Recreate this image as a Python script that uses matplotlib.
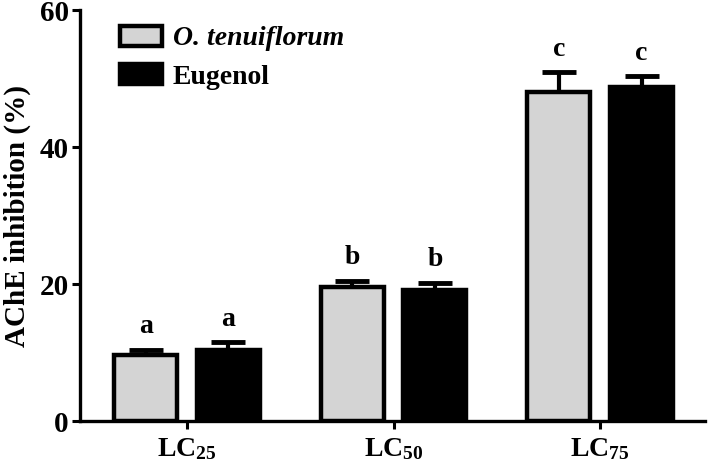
import matplotlib
matplotlib.use('Agg')
import matplotlib.pyplot as plt
import numpy as np

# valores
grupos = ['LC$_{25}$', 'LC$_{50}$', 'LC$_{75}$']
tenuiflorum = [9.6, 19.5, 48.0]
tenuiflorum_err = [0.8, 1.0, 2.9]
eugenol = [10.3, 19.1, 48.7]
eugenol_err = [1.2, 1.1, 1.6]
letras_t = ['a', 'b', 'c']
letras_e = ['a', 'b', 'c']

plt.rcParams['font.family'] = 'Liberation Serif'
plt.rcParams['font.weight'] = 'bold'
plt.rcParams['mathtext.fontset'] = 'custom'
plt.rcParams['mathtext.rm'] = 'Liberation Serif:bold'
plt.rcParams['mathtext.bf'] = 'Liberation Serif:bold'
plt.rcParams['mathtext.default'] = 'rm'

fig = plt.figure(figsize=(7.08, 4.68), dpi=100)
ax = fig.add_axes([0.113, 0.1004, 0.883, 0.8782])

x = np.arange(len(grupos))
w = 0.305
off = 0.2

ax.bar(x - off, tenuiflorum, w, color='#d4d4d4', edgecolor='black',
       linewidth=3.2, label='O. tenuiflorum', zorder=2)
ax.bar(x + off, eugenol, w, color='black', edgecolor='black',
       linewidth=3.2, label='Eugenol', zorder=2)

# barras de error solo hacia arriba
ax.errorbar(x - off, tenuiflorum, yerr=[np.zeros(3), tenuiflorum_err], fmt='none',
            ecolor='black', elinewidth=3, capsize=12, capthick=3.5, zorder=1)
ax.errorbar(x + off, eugenol, yerr=[np.zeros(3), eugenol_err], fmt='none',
            ecolor='black', elinewidth=3, capsize=12, capthick=3.5, zorder=1)

for i in range(3):
    ax.text(x[i] - off, tenuiflorum[i] + tenuiflorum_err[i] + 1.5, letras_t[i],
            ha='center', va='bottom', fontsize=20, fontweight='bold')
    ax.text(x[i] + off, eugenol[i] + eugenol_err[i] + 1.5, letras_e[i],
            ha='center', va='bottom', fontsize=20, fontweight='bold')

ax.set_xlim(-0.518, 2.508)
ax.set_ylim(0, 60)
ax.set_yticks([0, 20, 40, 60])
ax.set_xticks(x)
ax.set_xticklabels(grupos, fontsize=20)
ax.tick_params(axis='y', labelsize=21, width=2.2, length=6, pad=2)
ax.tick_params(axis='x', width=2.2, length=6, pad=5)
for lab in ax.get_yticklabels():
    lab.set_fontweight('bold')

ax.spines['top'].set_visible(False)
ax.spines['right'].set_visible(False)
ax.spines['left'].set_linewidth(2.4)
ax.spines['bottom'].set_linewidth(2.4)

ax.set_ylabel('AChE inhibition (%)', fontsize=21, fontweight='bold', labelpad=6)

leg = ax.legend(loc='upper left', bbox_to_anchor=(0.064, 0.962), frameon=False,
                fontsize=20, handlelength=1.5, handleheight=0.75,
                handletextpad=0.4, labelspacing=0.45, borderpad=0, borderaxespad=0)
leg.get_texts()[0].set_fontstyle('italic')
for t in leg.get_texts():
    t.set_fontweight('bold')

fig.savefig('out.png', dpi=100)
